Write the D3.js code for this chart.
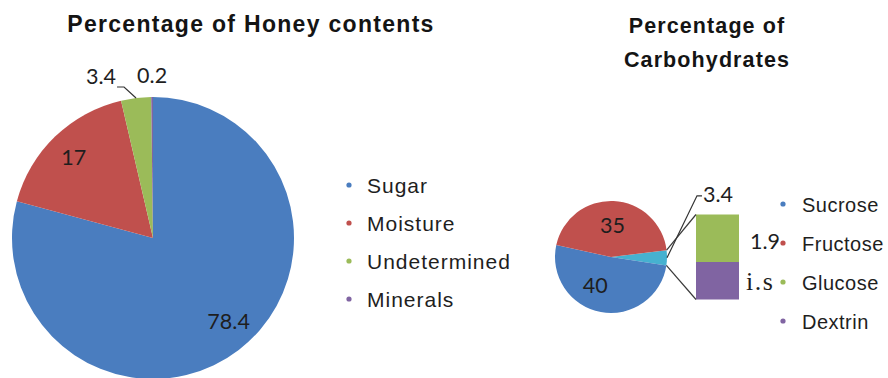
<!DOCTYPE html>
<html>
<head>
<meta charset="utf-8">
<script src="https://cdn.jsdelivr.net/npm/d3@7"></script>
<style>
  html, body { margin: 0; padding: 0; background: #fff; }
  svg { display: block; }
  .title { font-family: "Liberation Sans", Arial, sans-serif; font-weight: bold; font-size: 23px; letter-spacing: 1.3px; fill: #141414; }
  .legend { font-family: "Liberation Sans", Arial, sans-serif; font-size: 21px; letter-spacing: 1px; fill: #1e1e1e; }
  .legend.small { font-size: 20px; letter-spacing: 0.5px; }
  .val { font-family: Lato, "Open Sans", sans-serif; font-size: 21.5px; fill: #1e1e1e; }
  .serif { font-family: "Liberation Serif", "DejaVu Serif", serif; font-size: 26px; letter-spacing: 1.5px; fill: #1e1e1e; }
</style>
</head>
<body>
<svg id="chart" width="888" height="378"></svg>
<script>
// Honey composition (%)
const honeyCategories = ["Sugar", "Moisture", "Undetermined", "Minerals"];
const honeyValues = [78.4, 17, 3.4, 0.2];
const honeyColors = ["#4a7dbf", "#c0504d", "#9bbb59", "#8064a2"];

// Carbohydrate breakdown (%)
const carbCategories = ["Sucrose", "Fructose", "Glucose", "Dextrin"];
const carbValues = [40, 35, 1.9, 1.5];
const carbColors = ["#4a7dbf", "#c0504d", "#9bbb59", "#8064a2"];
const otherColor = "#46b1d0";
// labels printed next to the secondary bar
const secondaryLabels = ["1.9", "i.s"];

const svg = d3.select("#chart");
const deg = Math.PI / 180;
const pt = (cx, cy, a, r) => [cx + r * Math.sin(a), cy - r * Math.cos(a)];

// ---------- Left pie: honey contents ----------
const L = { cx: 153, cy: 238, r: 141 };
svg.append("text").attr("class", "title")
  .attr("x", 251).attr("y", 32).attr("text-anchor", "middle")
  .text("Percentage of Honey contents");

const honeyPie = d3.pie().sort(null).value(d => d)(honeyValues);
const honeyArc = d3.arc().innerRadius(0).outerRadius(L.r);
const gL = svg.append("g").attr("transform", `translate(${L.cx},${L.cy})`);
gL.selectAll("path").data(honeyPie).join("path")
  .attr("d", honeyArc)
  .attr("fill", (d, i) => honeyColors[i]);

// inside labels for the two large slices (small nudges keep them clear of edges)
const innerLabelArc = d3.arc().innerRadius(L.r * 0.8).outerRadius(L.r * 0.8);
const innerNudge = [[7, -6], [-1, 0]];
gL.selectAll("text.in").data(honeyPie.slice(0, 2)).join("text")
  .attr("class", "val")
  .attr("text-anchor", "middle").attr("dy", "0.36em")
  .attr("transform", (d, i) => {
    const c = innerLabelArc.centroid(d);
    return `translate(${c[0] + innerNudge[i][0]},${c[1] + innerNudge[i][1]})`;
  })
  .text(d => d.data);

// outside label with leader for the small "Undetermined" slice
{
  const d = honeyPie[2];
  const mid = (d.startAngle + d.endAngle) / 2;
  const p1 = pt(L.cx, L.cy, mid, L.r);
  const p2 = [p1[0] - 12, p1[1] - 11];
  const p3 = [p2[0] - 7, p2[1]];
  svg.append("polyline")
    .attr("points", [p1, p2, p3].map(p => p.join(",")).join(" "))
    .attr("fill", "none").attr("stroke", "#333").attr("stroke-width", 1.2);
  svg.append("text").attr("class", "val")
    .attr("x", p3[0] - 1).attr("y", p2[1] - 3).attr("text-anchor", "end")
    .text(d.data);
}
// outside label for the tiny "Minerals" slice
{
  const d = honeyPie[3];
  const mid = (d.startAngle + d.endAngle) / 2;
  const p = pt(L.cx, L.cy, mid, L.r);
  svg.append("text").attr("class", "val")
    .attr("x", p[0] - 15).attr("y", p[1] - 14)
    .text(d.data);
}

// legend
const legL = svg.append("g").attr("transform", "translate(349,0)");
honeyCategories.forEach((c, i) => {
  const y = 185 + i * 38;
  legL.append("circle").attr("cx", 0).attr("cy", y).attr("r", 2.6).attr("fill", honeyColors[i]);
  legL.append("text").attr("class", "legend").attr("x", 18).attr("y", y + 7.5).text(c);
});

// ---------- Right: pie of pie for carbohydrates ----------
const R = { cx: 611, cy: 257, r: 56 };
const tR = svg.append("text").attr("class", "title")
  .attr("text-anchor", "middle").style("font-size", "21.5px").style("letter-spacing", "1.1px");
tR.append("tspan").attr("x", 707).attr("y", 33).text("Percentage of");
tR.append("tspan").attr("x", 707).attr("y", 67).text("Carbohydrates");

const otherValue = carbValues[2] + carbValues[3];
const mainData = [
  { v: otherValue, color: otherColor },
  { v: carbValues[0], color: carbColors[0] },
  { v: carbValues[1], color: carbColors[1] }
];
const start = 83 * deg;
const mainPie = d3.pie().sort(null).value(d => d.v)
  .startAngle(start).endAngle(start + 2 * Math.PI)(mainData);
const mainArc = d3.arc().innerRadius(0).outerRadius(R.r);
const gR = svg.append("g").attr("transform", `translate(${R.cx},${R.cy})`);
gR.selectAll("path").data(mainPie).join("path")
  .attr("d", mainArc).attr("fill", d => d.data.color);

const mainLabelArc = d3.arc().innerRadius(R.r * 0.57).outerRadius(R.r * 0.57);
const mainNudge = [[-10, -3], [0, 0]];
gR.selectAll("text.in").data(mainPie.slice(1)).join("text")
  .attr("class", "val").attr("text-anchor", "middle").attr("dy", "0.36em")
  .attr("transform", (d, i) => {
    const c = mainLabelArc.centroid(d);
    return `translate(${c[0] + mainNudge[i][0]},${c[1] + mainNudge[i][1]})`;
  })
  .text(d => d.data.v);

// secondary stacked bar
const bar = { x: 696, w: 43 };
const hScale = d3.scaleLinear().domain([0, otherValue]).range([0, 85]);
const barTop = R.cy - hScale(otherValue) / 2;
let acc = 0;
const segs = [2, 3].map((k, j) => {
  const s = { y: barTop + hScale(acc), h: hScale(carbValues[k]), color: carbColors[k], label: secondaryLabels[j] };
  acc += carbValues[k];
  return s;
});
svg.selectAll("rect.seg").data(segs).join("rect")
  .attr("x", bar.x).attr("y", d => d.y).attr("width", bar.w).attr("height", d => d.h)
  .attr("fill", d => d.color);
svg.selectAll("text.seg").data(segs).join("text")
  .attr("class", (d, i) => i === 0 ? "val" : "serif")
  .attr("x", (d, i) => bar.x + bar.w + (i === 0 ? 11 : 7))
  .attr("y", (d, i) => d.y + d.h / 2 + (i === 0 ? 3 : 0))
  .attr("dy", "0.36em")
  .text(d => d.label);

// series lines joining the "other" slice to the bar
const other = mainPie[0];
const topEdge = pt(R.cx, R.cy, other.startAngle, R.r);
const botEdge = pt(R.cx, R.cy, other.endAngle, R.r);
const barBottom = barTop + hScale(otherValue);
[[topEdge, [bar.x, barTop]], [botEdge, [bar.x, barBottom]]].forEach(([a, b]) => {
  svg.append("line").attr("x1", a[0]).attr("y1", a[1]).attr("x2", b[0]).attr("y2", b[1])
    .attr("stroke", "#3a3a3a").attr("stroke-width", 1.2);
});

// leader and label for the "other" slice
{
  const mid = (other.startAngle + other.endAngle) / 2;
  const p1 = pt(R.cx, R.cy, mid, R.r);
  const p2 = [p1[0] + 30, p1[1] - 62];
  const p3 = [p2[0] + 5, p2[1]];
  svg.append("polyline")
    .attr("points", [p1, p2, p3].map(p => p.join(",")).join(" "))
    .attr("fill", "none").attr("stroke", "#333").attr("stroke-width", 1.2);
  svg.append("text").attr("class", "val")
    .attr("x", p3[0] + 1).attr("y", p2[1] + 6)
    .text(otherValue.toFixed(1));
}

// legend
const legR = svg.append("g").attr("transform", "translate(783,0)");
carbCategories.forEach((c, i) => {
  const y = 204 + i * 39;
  legR.append("circle").attr("cx", 0).attr("cy", y).attr("r", 2.6).attr("fill", carbColors[i]);
  legR.append("text").attr("class", "legend small").attr("x", 19).attr("y", y + 7.5).text(c);
});
</script>
</body>
</html>
